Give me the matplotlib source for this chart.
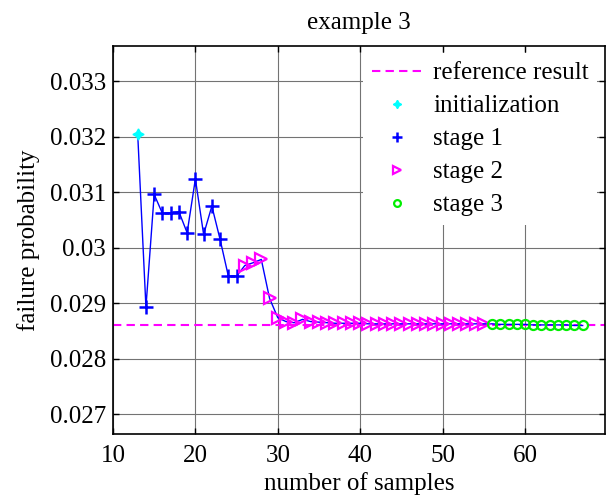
import matplotlib
matplotlib.use("Agg")
import matplotlib.pyplot as plt
import numpy as np

# data
ref_value = 0.0286

init_x = [13]
init_y = [0.03205]

stage1_x = list(range(14, 26))
stage1_y = [0.02893, 0.03096, 0.03062, 0.03063, 0.03065, 0.03027,
            0.03124, 0.03024, 0.03075, 0.03015, 0.02949, 0.02949]

stage2_x = list(range(26, 56))
stage2_y = [0.02968, 0.02973, 0.02979, 0.02909, 0.02874, 0.02867,
            0.02865, 0.02871, 0.02867, 0.02866, 0.02865, 0.02864,
            0.02864, 0.02864, 0.02864, 0.02863, 0.02863, 0.02863,
            0.02863, 0.02863, 0.02863, 0.02863, 0.02863, 0.02863,
            0.02863, 0.02863, 0.02863, 0.02863, 0.02863, 0.02863]

stage3_x = list(range(56, 68))
stage3_y = [0.02863, 0.02862, 0.02862, 0.02862, 0.02862, 0.02861,
            0.02861, 0.02861, 0.02861, 0.02861, 0.02860, 0.02860]

x_ticks = [10, 20, 30, 40, 50, 60]
y_ticks = [0.027, 0.028, 0.029, 0.03, 0.031, 0.032, 0.033]
y_tick_labels = ["0.027", "0.028", "0.029", "0.03", "0.031", "0.032", "0.033"]

plt.rcParams['font.family'] = ['Liberation Serif', 'DejaVu Serif']
plt.rcParams['font.size'] = 18

fig = plt.figure(figsize=(6.16, 4.97), dpi=100)
ax = fig.add_axes([0.1834, 0.1262, 0.7986, 0.7818])

all_x = init_x + stage1_x + stage2_x + stage3_x
all_y = init_y + stage1_y + stage2_y + stage3_y

ax.axhline(ref_value, color='#ff00ff', ls='--', lw=1.5, dashes=(4, 2.5),
           label='reference result', zorder=2)
ax.plot(all_x, all_y, '-', color='#0000ff', lw=1.0, zorder=3)
ax.plot(init_x, init_y, ls='none', marker=(4, 1, 0), ms=8, color='#00ffff',
        label='initialization', zorder=4)
ax.plot(stage1_x, stage1_y, ls='none', marker='+', ms=9.5, mew=1.8,
        color='#0000ff', label='stage 1', zorder=4)
ax.plot(stage2_x, stage2_y, ls='none', marker='>', ms=8, mew=1.6,
        mfc='none', mec='#ff00ff', label='stage 2', zorder=4)
ax.plot(stage3_x, stage3_y, ls='none', marker='o', ms=6.5, mew=1.6,
        mfc='none', mec='#00ee00', label='stage 3', zorder=4)

ax.set_xlim(10, 69.7)
ax.set_ylim(0.02664, 0.03364)
ax.set_xticks(x_ticks)
ax.set_yticks(y_ticks)
ax.set_yticklabels(y_tick_labels)
ax.grid(True, color='0.45', lw=0.8)
ax.set_axisbelow(True)
ax.tick_params(direction='in', top=True, right=True, length=4, width=1,
               labelsize=18)
ax.tick_params(axis='x', pad=8)
ax.tick_params(axis='y', pad=5)
for s in ax.spines.values():
    s.set_linewidth(1.2)

ax.set_xlabel('number of samples', fontsize=18)
ax.xaxis.set_label_coords(0.5, -0.098)
ax.set_ylabel('failure probability', fontsize=18, labelpad=7)
ax.set_title('example 3', fontsize=18, pad=12)

leg = ax.legend(loc='upper right', frameon=True, fancybox=False,
                edgecolor='none', facecolor='white', framealpha=1,
                fontsize=18, handlelength=2.0, handletextpad=0.45,
                labelspacing=0.42, borderaxespad=0.3, borderpad=0.35,
                markerscale=0.75)

fig.savefig('out.png', dpi=100)
